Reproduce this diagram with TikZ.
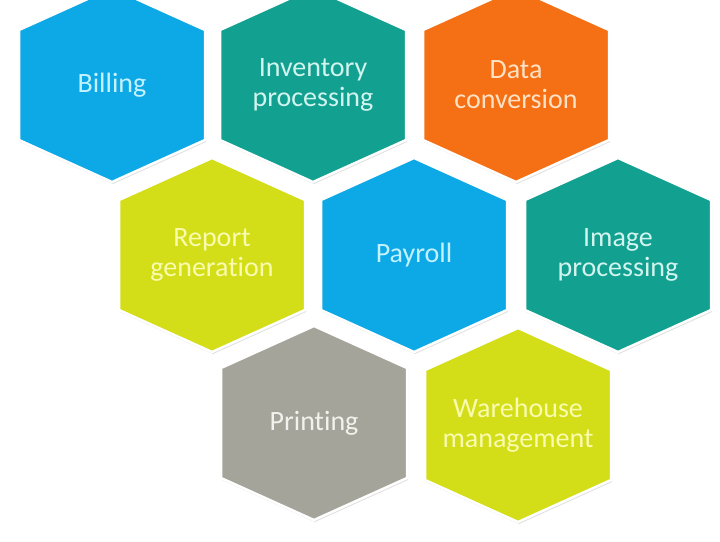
\documentclass[tikz,border=0pt]{standalone}
\usepackage{fontspec}
\setmainfont{Carlito}[Ligatures={NoCommon}]
\usetikzlibrary{shadows}

\definecolor{cellblue}{HTML}{0DA9E6}
\definecolor{cellteal}{HTML}{12A191}
\definecolor{cellorange}{HTML}{F57014}
\definecolor{celllime}{HTML}{D3DE18}
\definecolor{cellgrey}{HTML}{A4A49A}
\definecolor{txtblue}{HTML}{C4F1FF}
\definecolor{txtteal}{HTML}{D2F4EE}
\definecolor{txtorange}{HTML}{FFE2C6}
\definecolor{txtlime}{HTML}{F9FBAE}
\definecolor{txtgrey}{HTML}{F2F2EC}

\tikzset{
  hexcell/.style={fill=#1, draw=white, line width=2.5pt, line join=miter,
    drop shadow={opacity=0.25, shadow xshift=1pt, shadow yshift=-2pt}},
  hexlabel/.style={text=#1, align=center, font=\fontsize{28}{30}\selectfont}
}

\begin{document}
\begin{tikzpicture}[x=1pt,y=-1pt]
\useasboundingbox (0,0) rectangle (720,541);
 % one hexagon per task, centre in pixels
 \foreach \name/\cx/\cy/\fillc/\textc/\lbl in {
   billing/112/85/cellblue/txtblue/Billing,
   inventory/313/85/cellteal/txtteal/Inventory\\processing,
   data/516/85/cellorange/txtorange/Data\\conversion,
   report/212/255/celllime/txtlime/Report\\generation,
   payroll/414/255/cellblue/txtblue/Payroll,
   image/618/255/cellteal/txtteal/Image\\processing,
   printing/314/423/cellgrey/txtgrey/Printing,
   warehouse/518/425/celllime/txtlime/Warehouse\\management}
 {
  \filldraw[hexcell=\fillc] (\cx,\cy) ++(0,-97) -- ++(93,42) -- ++(0,110)
    -- ++(-93,42) -- ++(-93,-42) -- ++(0,-110) -- cycle;
  \node[hexlabel=\textc] (\name) at (\cx,\cy) {\lbl};
 }
\end{tikzpicture}
\end{document}
